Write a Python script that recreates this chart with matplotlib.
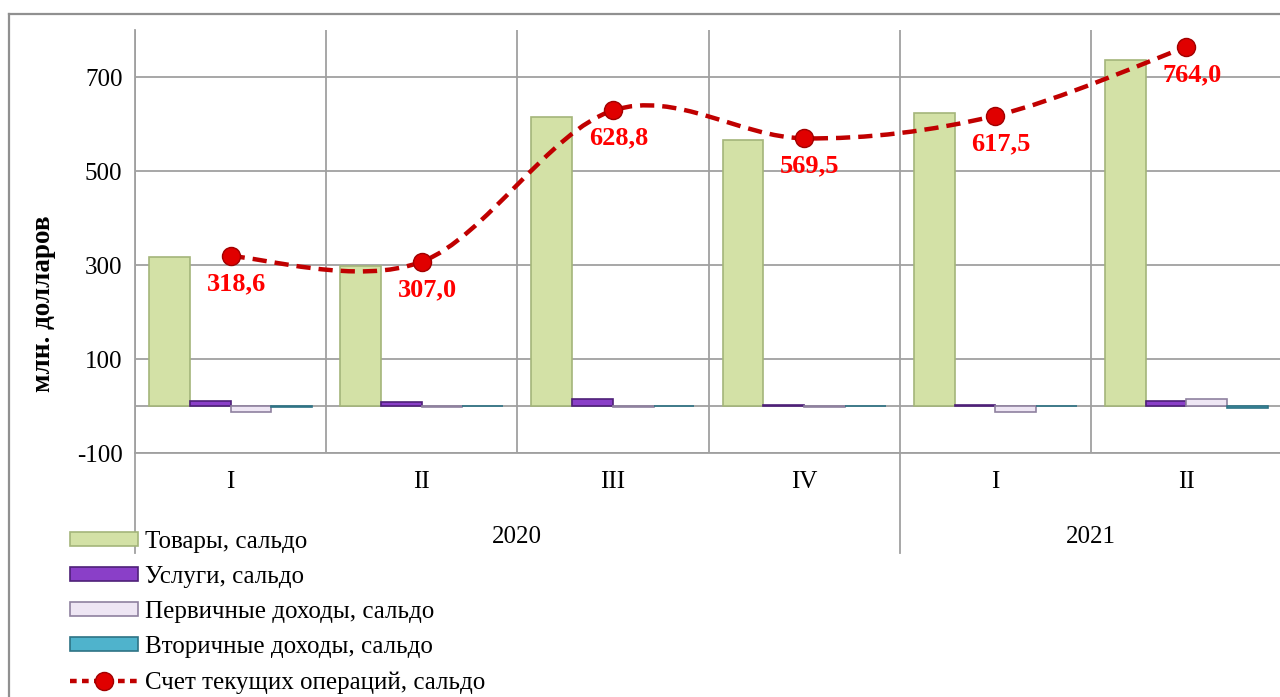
import matplotlib
matplotlib.use('Agg')
import matplotlib.pyplot as plt
import matplotlib.patches as mpatches
from matplotlib.lines import Line2D
from matplotlib.path import Path
import numpy as np

################################################################################
##### data #####
quarters = ['I', 'II', 'III', 'IV', 'I', 'II']
years = ['2020', '2021']
year_spans = [(0, 4), (4, 6)]  # categories covered by each year

goods = [317, 298, 615, 566, 623, 736]
services = [10, 8, 14, 3, 2, 11]
primary_income = [-12, -3, -3, -3, -12, 14]
secondary_income = [-2, -1, -1, -1, -1, -4]
current_account = [318.6, 307.0, 628.8, 569.5, 617.5, 764.0]
current_account_labels = ['318,6', '307,0', '628,8', '569,5', '617,5', '764,0']

series_names = ['Товары, сальдо', 'Услуги, сальдо', 'Первичные доходы, сальдо',
                'Вторичные доходы, сальдо', 'Счет текущих операций, сальдо']

################################################################################
##### styles #####
plt.rcParams['font.family'] = ['Liberation Serif', 'DejaVu Serif']
plt.rcParams['axes.unicode_minus'] = False
grid_col = '#A0A0A0'
bar_faces = ['#D3E1A6', '#8A3FC8', '#EEE6F4', '#4FB3CC']
bar_edges = ['#A4B57A', '#4E2078', '#8F819F', '#2E7385']
line_col = '#C00000'

fig = plt.figure(figsize=(12.8, 6.97), dpi=100)
ax = fig.add_axes([135/1280, 1 - 453/697, 1147/1280, 423/697])

# outer chart border (top and left visible)
fig.add_artist(Line2D([9/1280, 1.0], [1 - 14/697, 1 - 14/697], transform=fig.transFigure, color='#909090', lw=1.6))
fig.add_artist(Line2D([9/1280, 9/1280], [0, 1 - 14/697], transform=fig.transFigure, color='#909090', lw=1.6))

ax.set_xlim(0, 6)
ax.set_ylim(-100, 800)
ax.set_yticks([-100, 100, 300, 500, 700])
ax.yaxis.grid(True, color=grid_col, lw=1.3)
ax.set_axisbelow(True)
for x in range(0, 7):
    ax.axvline(x, color=grid_col, lw=1.3, zorder=0)
ax.axhline(0, color=grid_col, lw=1.3, zorder=1)
for s in ['top', 'right']:
    ax.spines[s].set_visible(False)
ax.spines['left'].set_color(grid_col)
ax.spines['bottom'].set_color(grid_col)
ax.spines['left'].set_linewidth(1.3)
ax.spines['bottom'].set_linewidth(1.3)

centers = np.arange(6) + 0.5
bw = 0.213
all_bars = [goods, services, primary_income, secondary_income]
for i, vals in enumerate(all_bars):
    ax.bar(centers + (i - 1.5) * bw, vals, width=bw, color=bar_faces[i],
           edgecolor=bar_edges[i], linewidth=1.2, zorder=2)

# smoothed line (cubic bezier through the data points, like the spreadsheet smoothing)
pts = np.column_stack([centers, current_account])
verts = [tuple(pts[0])]
codes = [Path.MOVETO]
n = len(pts)
for i in range(n - 1):
    p_prev = pts[max(i - 1, 0)]
    p0 = pts[i]
    p1 = pts[i + 1]
    p_next = pts[min(i + 2, n - 1)]
    c1 = p0 + (p1 - p_prev) / 6
    c2 = p1 - (p_next - p0) / 6
    verts += [tuple(c1), tuple(c2), tuple(p1)]
    codes += [Path.CURVE4] * 3
curve = mpatches.PathPatch(Path(verts, codes), facecolor='none', edgecolor=line_col,
                           lw=3.2, linestyle=(0, (3.2, 1.8)), zorder=4, capstyle='butt')
ax.add_patch(curve)
ax.plot(centers, current_account, linestyle='none', marker='o', markersize=13,
        markerfacecolor='#E00000', markeredgecolor='#A00000', markeredgewidth=1, zorder=5)
for x, y, lab in zip(centers, current_account, current_account_labels):
    ax.annotate(lab, (x, y), xytext=(4, -20), textcoords='offset points', ha='center', va='center',
                color='#FF0000', fontsize=19, fontweight='bold', zorder=6)

# axes labels
ax.set_xticks(centers)
ax.set_xticklabels(quarters)
ax.tick_params(axis='x', length=0, pad=13, labelsize=18)
ax.tick_params(axis='y', length=0, pad=9, labelsize=18)
for yr, (a, b) in zip(years, year_spans):
    ax.text((a + b) / 2, -0.199, yr, transform=ax.get_xaxis_transform(), ha='center', va='center', fontsize=18)
for x in [0, 4]:
    ax.add_line(Line2D([x, x], [0, -100/423], transform=ax.get_xaxis_transform(), color=grid_col, lw=1.3, clip_on=False))
fig.text(44/1280, 1 - 304/697, 'млн. долларов', rotation=90, ha='center', va='center', fontsize=19.5, fontweight='bold')

# legend
line_handle = Line2D([], [], color=line_col, lw=3.2, linestyle=(0, (1.5, 1.2)), marker='o', markersize=13,
                     markerfacecolor='#E00000', markeredgecolor='#A00000')
leg_handles = [mpatches.Patch(facecolor=bar_faces[i], edgecolor=bar_edges[i], lw=1.2) for i in range(4)] + [line_handle]
fig.legend(leg_handles, series_names, loc='upper left', bbox_to_anchor=(70/1280, 1 - 531/697),
           frameon=False, fontsize=18, handlelength=2.7, handleheight=0.5, handletextpad=0.3,
           labelspacing=0.52, borderpad=0, borderaxespad=0)

fig.savefig('out.png', dpi=100)
